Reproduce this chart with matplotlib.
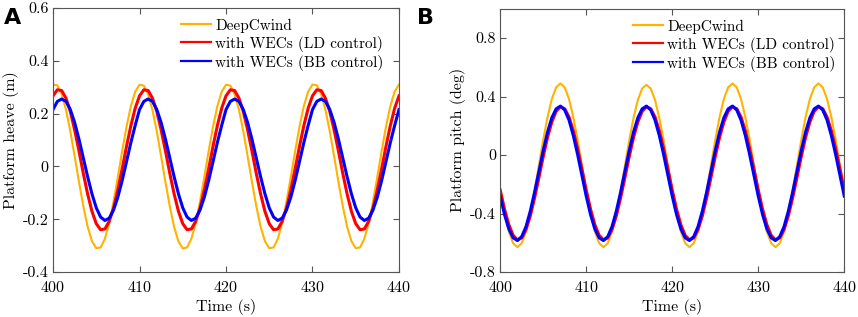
import numpy as np
import matplotlib
matplotlib.use("Agg")
import matplotlib.pyplot as plt
from matplotlib.ticker import FuncFormatter

# ---------------- data (0.5 s steps) ----------------
time = [400 + 0.5 * k for k in range(81)]

heave_deepcwind = [
    0.310, 0.307, 0.274, 0.214, 0.133, 0.039, -0.059, -0.150, -0.228, -0.283,
    -0.310, -0.307, -0.274, -0.214, -0.133, -0.039, 0.059, 0.150, 0.228, 0.283,
    0.309, 0.306, 0.273, 0.213, 0.132, 0.038, -0.060, -0.151, -0.229, -0.284,
    -0.311, -0.307, -0.274, -0.214, -0.133, -0.039, 0.059, 0.150, 0.228, 0.283,
    0.309, 0.306, 0.273, 0.214, 0.133, 0.039, -0.059, -0.150, -0.228, -0.283,
    -0.310, -0.307, -0.274, -0.214, -0.133, -0.039, 0.059, 0.150, 0.228, 0.283,
    0.310, 0.307, 0.274, 0.214, 0.133, 0.039, -0.059, -0.150, -0.228, -0.283,
    -0.310, -0.307, -0.274, -0.214, -0.133, -0.039, 0.059, 0.150, 0.228, 0.283,
    0.310,
]
heave_ld = [
    0.267, 0.290, 0.287, 0.258, 0.208, 0.138, 0.058, -0.026, -0.104, -0.170,
    -0.217, -0.240, -0.237, -0.208, -0.158, -0.088, -0.008, 0.076, 0.154, 0.220,
    0.267, 0.290, 0.287, 0.258, 0.208, 0.138, 0.058, -0.026, -0.104, -0.170,
    -0.217, -0.240, -0.237, -0.208, -0.158, -0.088, -0.008, 0.076, 0.154, 0.220,
    0.267, 0.290, 0.287, 0.258, 0.208, 0.138, 0.058, -0.026, -0.104, -0.170,
    -0.217, -0.240, -0.237, -0.208, -0.158, -0.088, -0.008, 0.076, 0.154, 0.220,
    0.267, 0.290, 0.287, 0.258, 0.208, 0.138, 0.058, -0.026, -0.104, -0.170,
    -0.217, -0.240, -0.237, -0.208, -0.158, -0.088, -0.008, 0.076, 0.154, 0.220,
    0.267,
]
heave_bb = [
    0.215, 0.246, 0.255, 0.246, 0.215, 0.166, 0.103, 0.032, -0.039, -0.104,
    -0.157, -0.192, -0.205, -0.196, -0.165, -0.116, -0.053, 0.018, 0.090, 0.155,
    0.215, 0.246, 0.255, 0.246, 0.215, 0.166, 0.103, 0.032, -0.039, -0.104,
    -0.157, -0.192, -0.205, -0.196, -0.165, -0.116, -0.053, 0.018, 0.090, 0.155,
    0.215, 0.246, 0.255, 0.246, 0.215, 0.166, 0.103, 0.032, -0.039, -0.104,
    -0.157, -0.192, -0.205, -0.196, -0.165, -0.116, -0.053, 0.018, 0.090, 0.155,
    0.215, 0.246, 0.255, 0.246, 0.215, 0.166, 0.103, 0.032, -0.039, -0.104,
    -0.157, -0.192, -0.205, -0.196, -0.165, -0.116, -0.053, 0.018, 0.090, 0.155,
    0.215,
]

pitch_deepcwind = [
    -0.243, -0.399, -0.523, -0.603, -0.630, -0.603, -0.523, -0.399, -0.243, -0.070,
    0.103, 0.259, 0.383, 0.463, 0.490, 0.463, 0.383, 0.259, 0.103, -0.070,
    -0.243, -0.399, -0.523, -0.603, -0.630, -0.603, -0.523, -0.399, -0.243, -0.072,
    0.100, 0.254, 0.376, 0.455, 0.480, 0.455, 0.376, 0.254, 0.100, -0.072,
    -0.243, -0.399, -0.523, -0.603, -0.630, -0.603, -0.523, -0.399, -0.243, -0.070,
    0.103, 0.259, 0.383, 0.463, 0.490, 0.463, 0.383, 0.259, 0.103, -0.070,
    -0.243, -0.399, -0.523, -0.603, -0.630, -0.603, -0.523, -0.399, -0.243, -0.070,
    0.103, 0.259, 0.383, 0.463, 0.490, 0.463, 0.383, 0.259, 0.103, -0.070,
    -0.243,
]
pitch_ld = [
    -0.239, -0.370, -0.476, -0.549, -0.580, -0.567, -0.510, -0.416, -0.293, -0.154,
    -0.011, 0.120, 0.226, 0.299, 0.330, 0.317, 0.260, 0.166, 0.043, -0.096,
    -0.239, -0.370, -0.476, -0.549, -0.580, -0.567, -0.510, -0.416, -0.293, -0.154,
    -0.011, 0.120, 0.226, 0.299, 0.330, 0.317, 0.260, 0.166, 0.043, -0.096,
    -0.239, -0.370, -0.476, -0.549, -0.580, -0.567, -0.510, -0.416, -0.293, -0.154,
    -0.011, 0.120, 0.226, 0.299, 0.330, 0.317, 0.260, 0.166, 0.043, -0.096,
    -0.239, -0.370, -0.476, -0.549, -0.580, -0.567, -0.510, -0.416, -0.293, -0.154,
    -0.011, 0.120, 0.226, 0.299, 0.330, 0.317, 0.260, 0.166, 0.043, -0.096,
    -0.239,
]
pitch_bb = [
    -0.281, -0.407, -0.505, -0.566, -0.585, -0.558, -0.489, -0.383, -0.253, -0.111,
    0.031, 0.157, 0.255, 0.316, 0.335, 0.308, 0.239, 0.133, 0.003, -0.139,
    -0.281, -0.407, -0.505, -0.566, -0.585, -0.558, -0.489, -0.383, -0.253, -0.111,
    0.031, 0.157, 0.255, 0.316, 0.335, 0.308, 0.239, 0.133, 0.003, -0.139,
    -0.281, -0.407, -0.505, -0.566, -0.585, -0.558, -0.489, -0.383, -0.253, -0.111,
    0.031, 0.157, 0.255, 0.316, 0.335, 0.308, 0.239, 0.133, 0.003, -0.139,
    -0.281, -0.407, -0.505, -0.566, -0.585, -0.558, -0.489, -0.383, -0.253, -0.111,
    0.031, 0.157, 0.255, 0.316, 0.335, 0.308, 0.239, 0.133, 0.003, -0.139,
    -0.281,
]

series_names = ["DeepCwind", "with WECs (LD control)", "with WECs (BB control)"]
x_ticks = [400, 410, 420, 430, 440]
heave_ticks = [-0.4, -0.2, 0, 0.2, 0.4, 0.6]
pitch_ticks = [-0.8, -0.4, 0, 0.4, 0.8]

# ---------------- style ----------------
plt.rcParams["font.family"] = "serif"
plt.rcParams["font.serif"] = ["cmr10", "DejaVu Serif"]
plt.rcParams["mathtext.fontset"] = "cm"
plt.rcParams["axes.unicode_minus"] = False
plt.rcParams["axes.formatter.use_mathtext"] = True

colors = ["#FFB300", "#FF0000", "#0000FF"]
widths = [1.5, 2.2, 2.2]
FS = 11

fig = plt.figure(figsize=(8.58, 3.17), dpi=100)
axA = fig.add_axes([0.0618, 0.142, 0.4032, 0.833])
axB = fig.add_axes([0.583, 0.142, 0.401, 0.830])

fmt = FuncFormatter(lambda v, p: "0" if abs(v) < 1e-9 else f"{v:g}")


def style(ax, yticks, ylim, ylabel, anchor):
    ax.set_xlim(400, 440)
    ax.set_ylim(*ylim)
    ax.set_xticks(x_ticks)
    ax.set_yticks(yticks)
    ax.yaxis.set_major_formatter(fmt)
    ax.tick_params(direction="in", top=True, right=True, length=4,
                   width=0.8, color="#555555", labelsize=FS + 0.5)
    ax.tick_params(axis="x", pad=6)
    ax.tick_params(axis="y", pad=3)
    for s in ax.spines.values():
        s.set_color("#555555")
        s.set_linewidth(0.8)
    ax.set_xlabel("Time (s)", fontsize=FS + 0.5, labelpad=3)
    ax.set_ylabel(ylabel, fontsize=FS + 0.5, labelpad=3)
    leg = ax.legend(loc="upper right", bbox_to_anchor=anchor, frameon=False,
                    fontsize=FS, handlelength=2.0, handletextpad=0.25,
                    labelspacing=0.2, borderaxespad=0.0, borderpad=0.0)
    for ln in leg.get_lines():
        ln.set_linewidth(1.6)


for vals, name, c, lw in zip([heave_deepcwind, heave_ld, heave_bb], series_names, colors, widths):
    axA.plot(time, vals, color=c, lw=lw, label=name)
for vals, name, c, lw in zip([pitch_deepcwind, pitch_ld, pitch_bb], series_names, colors, widths):
    axB.plot(time, vals, color=c, lw=lw, label=name)

style(axA, heave_ticks, (-0.4, 0.6), "Platform heave (m)", (0.955, 0.96))
style(axB, pitch_ticks, (-0.8, 1.0), "Platform pitch (deg)", (0.975, 0.96))

fig.text(0.004, 0.975, "A", fontsize=16, fontweight="bold", family="DejaVu Sans",
         va="top", ha="left")
fig.text(0.486, 0.975, "B", fontsize=16, fontweight="bold", family="DejaVu Sans",
         va="top", ha="left")

fig.savefig("out.png", dpi=100)
